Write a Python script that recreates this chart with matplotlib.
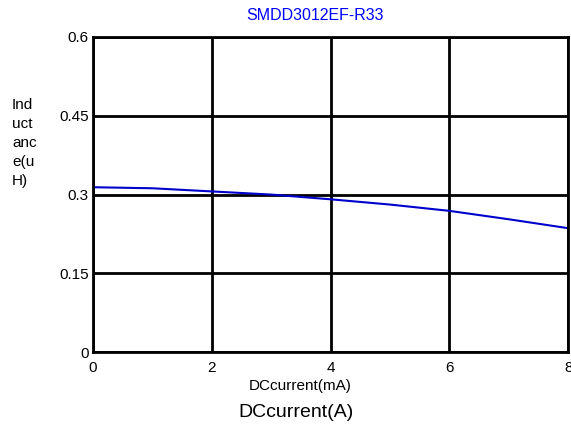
import matplotlib
matplotlib.use("Agg")
import matplotlib.pyplot as plt

plt.rcParams['font.family'] = ['Liberation Sans', 'DejaVu Sans']

current = [0, 1, 2, 3, 4, 5, 6, 7, 8]
inductance = [0.314, 0.312, 0.306, 0.300, 0.291, 0.281, 0.269, 0.253, 0.236]
xticks = [0, 2, 4, 6, 8]
yticks = [0, 0.15, 0.3, 0.45, 0.6]
ytick_labels = ["0", "0.15", "0.3", "0.45", "0.6"]

fig = plt.figure(figsize=(5.71, 4.30), dpi=100)
ax = fig.add_axes([0.163, 0.181, 0.832, 0.733])
ax.plot(current, inductance, color='#0000cc', linewidth=1.5)
ax.set_xlim(0, 8)
ax.set_ylim(0, 0.6)
ax.set_xticks(xticks)
ax.set_yticks(yticks)
ax.set_yticklabels(ytick_labels)
ax.grid(True, color='black', linewidth=2)
for s in ax.spines.values():
    s.set_linewidth(2)
    s.set_color('black')
ax.tick_params(axis='x', length=0, labelsize=11, pad=6)
ax.tick_params(axis='y', length=0, labelsize=11, pad=3)
ax.set_xlabel("DCcurrent(mA)", fontsize=11, labelpad=3)
ax.xaxis.set_label_coords(0.435, -0.085)
ax.set_title("SMDD3012EF-R33", color='#0000ff', fontsize=11.5, pad=12, x=0.467)
fig.text(0.021, 0.667, "Ind\nuct\nanc\ne(u\nH)", fontsize=11, ha='left', va='center', linespacing=1.45)
fig.text(0.519, 0.041, "DCcurrent(A)", fontsize=14, ha='center', va='center')
fig.savefig("out.png", dpi=100)
